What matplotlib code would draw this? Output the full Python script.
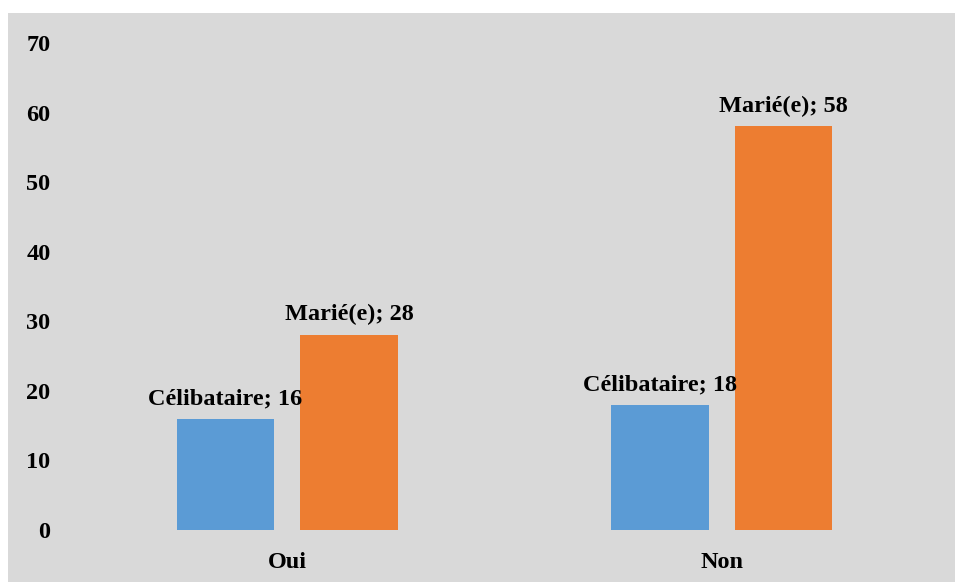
import matplotlib
matplotlib.use("Agg")
import matplotlib.pyplot as plt
from matplotlib.patches import Rectangle
import numpy as np

categories = ["Oui", "Non"]
series_names = ["Célibataire", "Marié(e)"]
celibataire = [16, 18]
marie = [28, 58]
yticks = [0, 10, 20, 30, 40, 50, 60, 70]

colors = ["#5B9BD5", "#ED7D31"]
bg = "#D9D9D9"

plt.rcParams['font.family'] = ['Liberation Serif', 'DejaVu Serif']
plt.rcParams['font.weight'] = 'bold'

W, H = 955, 582
fig = plt.figure(figsize=(W/100, H/100), dpi=100)
fig.patch.set_facecolor("white")
fig.patches.append(Rectangle((8/W, 0), 1 - 8/W, 1 - 13/H, transform=fig.transFigure,
                             facecolor=bg, edgecolor="none", zorder=-5))

ax = fig.add_axes([70/W, 1 - 530/H, (939 - 70)/W, (530 - 43)/H])
ax.set_zorder(2)
ax.set_facecolor(bg)
ax.patch.set_alpha(0)

fs = 17.5
x = np.arange(len(categories))
width = 0.224
offset = 0.142
for vals, name, col, off in [(celibataire, series_names[0], colors[0], -offset),
                             (marie, series_names[1], colors[1], offset)]:
    bars = ax.bar(x + off, vals, width, color=col, zorder=2)
    for b, v in zip(bars, vals):
        ax.annotate(f"{name}; {v}", (b.get_x() + b.get_width()/2, v),
                    xytext=(0, 7), textcoords="offset points",
                    ha="center", va="bottom", fontsize=fs, fontweight="bold", zorder=3)

ax.set_xlim(-0.5, 1.5)
ax.set_ylim(0, 70)
ax.set_yticks(yticks)
ax.set_yticklabels([str(t) for t in yticks], fontsize=fs, fontweight="bold")
ax.set_xticks(x)
ax.set_xticklabels(categories, fontsize=fs, fontweight="bold")
ax.tick_params(axis="y", length=0, pad=14)
ax.tick_params(axis="x", length=0, pad=15.5)
for s in ax.spines.values():
    s.set_visible(False)

fig.savefig("out.png", dpi=100, facecolor=fig.get_facecolor())
